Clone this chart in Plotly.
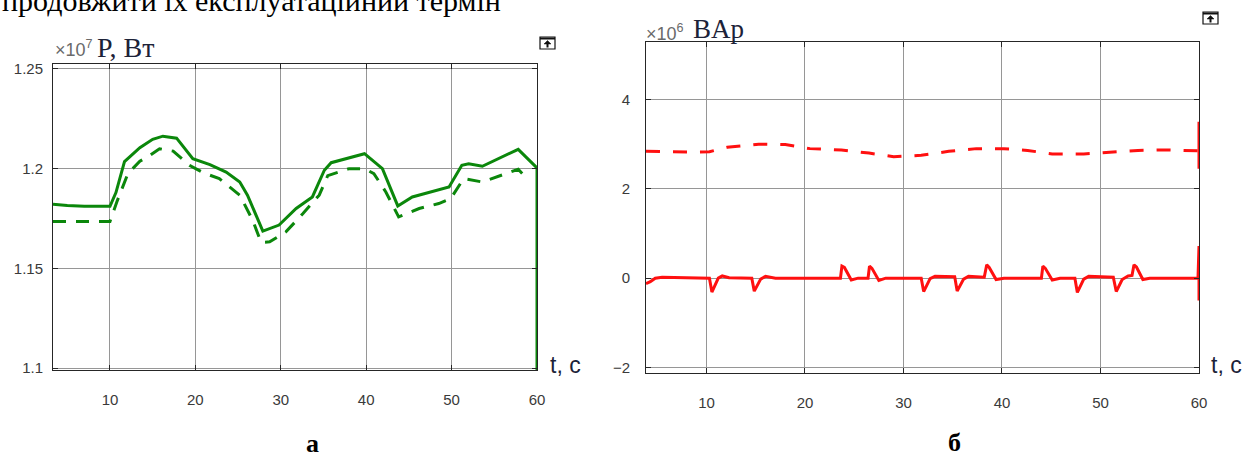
import plotly.graph_objects as go

W, H = 1246, 459

# ---------------- data: chart (а) active power P, x10^7 W ----------------
t_p_solid = [3.33, 5.0, 7.0, 10.0, 10.7, 11.7, 13.5, 15.0, 16.2, 17.8, 19.7, 21.7, 23.6, 25.2, 26.1,
             27.9, 29.8, 31.8, 33.7, 35.1, 35.9, 38.0, 39.8, 41.9, 43.7, 45.4, 47.7, 49.7, 51.2,
             52.0, 53.6, 55.5, 57.8, 59.9, 60.0, 60.0]
p_solid = [1.1822, 1.1815, 1.1812, 1.1811, 1.188, 1.2035, 1.2105, 1.2147, 1.2163, 1.2153, 1.205,
           1.202, 1.1983, 1.1933, 1.1867, 1.1687, 1.1717, 1.18, 1.1858, 1.1992, 1.203, 1.2053,
           1.2075, 1.2, 1.1813, 1.1858, 1.1883, 1.1908, 1.2017, 1.2025, 1.2012, 1.205, 1.2097,
           1.2008, 1.2005, 1.098]

t_p_dash = [3.33, 10.0, 10.8, 12.1, 13.5, 14.7, 15.8, 17.4, 19.3, 20.9, 22.8, 25.2, 26.7, 27.7, 28.7,
            30.6, 32.6, 34.5, 35.5, 36.5, 38.0, 39.8, 40.9, 42.3, 43.8, 46.2, 48.5, 49.9, 51.4,
            53.6, 55.9, 57.8, 59.0]
p_dash = [1.1735, 1.1735, 1.1833, 1.1975, 1.2037, 1.2067, 1.21, 1.2088, 1.2017, 1.198, 1.195,
          1.1867, 1.1742, 1.163, 1.1633, 1.1683, 1.1775, 1.1867, 1.1965, 1.198, 1.2, 1.2, 1.1975,
          1.1883, 1.1758, 1.18, 1.1825, 1.185, 1.195, 1.1933, 1.1967, 1.1997, 1.1942]

# ---------------- data: chart (б) reactive power, x10^6 VAr ----------------
t_q_dash = [3.86, 6.0, 9.0, 10.3, 12.1, 15.3, 18.0, 20.5, 23.7, 26.5, 29.0, 31.8, 34.6, 37.4, 40.2,
            42.6, 45.1, 48.3, 50.7, 53.8, 56.6, 59.9]
q_dash = [2.84, 2.83, 2.82, 2.83, 2.93, 3.0, 2.99, 2.9, 2.87, 2.8, 2.72, 2.75, 2.84, 2.9, 2.9,
          2.86, 2.78, 2.78, 2.82, 2.86, 2.87, 2.85]
t_q_dash_end = [60.0, 60.0]
q_dash_end = [3.5, 2.45]

t_q_solid = [3.86, 4.3, 4.8, 5.5, 10.3, 10.55, 11.2, 11.6, 12.3, 14.6, 14.85, 15.5, 16.0, 17.0,
             23.6, 23.75, 24.0, 24.7, 25.4, 26.4, 26.55, 26.8, 27.5, 28.2, 31.8, 32.05, 32.7,
             33.2, 35.2, 35.45, 36.1, 36.6, 38.2, 38.45, 38.7, 39.4, 40.2, 44.0, 44.15, 44.4,
             45.1, 45.9, 47.4, 47.65, 48.3, 48.8, 51.3, 51.6, 52.2, 52.8, 53.2, 53.4, 53.65,
             54.3, 55.0, 59.9, 60.0, 60.0]
q_solid = [-0.12, -0.08, 0.0, 0.02, 0.0, -0.31, 0.0, 0.05, 0.01, 0.0, -0.29, -0.02, 0.04, 0.0,
           0.0, 0.27, 0.24, -0.04, 0.0, 0.0, 0.27, 0.22, -0.05, 0.0, 0.0, -0.3, -0.01,
           0.04, 0.03, -0.29, -0.02, 0.04, 0.02, 0.3, 0.24, -0.03, 0.0, 0.0, 0.27, 0.22,
           -0.04, 0.0, 0.0, -0.32, -0.02, 0.04, 0.02, -0.3, -0.03, 0.05, 0.06, 0.3, 0.25,
           -0.03, 0.0, 0.0, 0.72, -0.5]

x_ticks = [10, 20, 30, 40, 50, 60]
p_ticks = [1.1, 1.15, 1.2, 1.25]
p_tick_text = ["1.1", "1.15", "1.2", "1.25"]
q_ticks = [-2, 0, 2, 4]

GREEN = "#0b870b"
RED = "#ff1010"


def px(x):
    return x / W


def py(y):
    return 1 - y / H


fig = go.Figure()
fig.add_trace(go.Scatter(x=t_p_solid, y=p_solid, mode="lines", xaxis="x", yaxis="y",
                         line=dict(color=GREEN, width=3), showlegend=False, hoverinfo="skip"))
fig.add_trace(go.Scatter(x=t_p_dash, y=p_dash, mode="lines", xaxis="x", yaxis="y",
                         line=dict(color=GREEN, width=3, dash="13px,10px"), showlegend=False,
                         hoverinfo="skip"))
fig.add_trace(go.Scatter(x=t_q_dash, y=q_dash, mode="lines", xaxis="x2", yaxis="y2",
                         line=dict(color=RED, width=3, dash="14px,13px"), showlegend=False,
                         hoverinfo="skip"))
fig.add_trace(go.Scatter(x=t_q_dash_end, y=q_dash_end, mode="lines", xaxis="x2", yaxis="y2",
                         line=dict(color=RED, width=3), showlegend=False, hoverinfo="skip"))
fig.add_trace(go.Scatter(x=t_q_solid, y=q_solid, mode="lines", xaxis="x2", yaxis="y2",
                         line=dict(color=RED, width=3), showlegend=False, hoverinfo="skip"))

AX = "#262626"
GRID = "#969696"
TICKFONT = dict(family="Liberation Sans, Arial, sans-serif", size=15, color="#3a3a3a")

common = dict(showline=True, linecolor=AX, linewidth=1, mirror="ticks", ticks="inside",
              ticklen=5, tickcolor=AX, tickwidth=1, showgrid=True, gridcolor=GRID,
              gridwidth=1, zeroline=False, tickfont=TICKFONT, automargin=False, fixedrange=True)

fig.update_layout(
    width=W, height=H,
    margin=dict(l=0, r=0, t=0, b=0),
    paper_bgcolor="white", plot_bgcolor="white",
    xaxis=dict(domain=[px(53), px(537)], range=[3.33, 60], tickvals=x_ticks, anchor="y",
               ticklabelstandoff=16, **common),
    yaxis=dict(domain=[py(370), py(64)], range=[1.099, 1.2525], tickvals=p_ticks,
               ticktext=p_tick_text, anchor="x", ticklabelstandoff=6, **common),
    xaxis2=dict(domain=[px(646), px(1199)], range=[3.86, 60], tickvals=x_ticks, anchor="y2",
                ticklabelstandoff=16, **common),
    yaxis2=dict(domain=[py(373), py(42)], range=[-2.123, 5.287], tickvals=q_ticks, anchor="x2",
                ticklabelstandoff=12, **common),
)

SERIF = "Liberation Serif, Times New Roman, serif"
SANS = "Liberation Sans, Arial, sans-serif"
LABEL_C = "#1c2238"


def note(text, x, y, font, xanchor="left"):
    return dict(text=text, x=px(x), y=py(y), xref="paper", yref="paper", xanchor=xanchor,
                yanchor="middle", showarrow=False, font=font)


ann = [
    # cut-off line of body text at the very top (cut off in the reference too)
    note("продовжити їх експлуатаційний термін", 0, 0,
         dict(family=SERIF, size=30, color="#000")),
    # axis unit labels
    note("×10<sup>7</sup>", 53, 49, dict(family=SANS, size=18, color="#6a6a6a")),
    note("P, Вт", 95, 47, dict(family=SERIF, size=28, color=LABEL_C)),
    note("×10<sup>6</sup>", 644, 32, dict(family=SANS, size=18, color="#6a6a6a")),
    note("BAp", 691, 29, dict(family=SERIF, size=27, color=LABEL_C)),
    # time axis labels
    note("t, c", 548, 365, dict(family=SANS, size=23, color=LABEL_C)),
    note("t, c", 1209, 365, dict(family=SANS, size=23, color=LABEL_C)),
    # sub-figure letters
    note("<b>а</b>", 312, 443, dict(family=SERIF, size=26, color="#000"), "center"),
    note("<b>б</b>", 954, 442, dict(family=SERIF, size=26, color="#000"), "center"),
]
fig.update_layout(annotations=ann)


def icon(x0, y0):
    # small "undock" button glyph drawn at the top-right of each plot
    w, h = 15, 12
    return [
        dict(type="rect", xref="paper", yref="paper", x0=px(x0), x1=px(x0 + w), y0=py(y0 + h),
             y1=py(y0), line=dict(color="#111", width=1.2), fillcolor="white"),
        dict(type="line", xref="paper", yref="paper", x0=px(x0), x1=px(x0 + w), y0=py(y0 + 1.5),
             y1=py(y0 + 1.5), line=dict(color="#111", width=2)),
        dict(type="path", xref="paper", yref="paper",
             path=f"M {px(x0 + 7.5)} {py(y0 + 3.5)} L {px(x0 + 4)} {py(y0 + 7)} "
                  f"L {px(x0 + 11)} {py(y0 + 7)} Z",
             fillcolor="#111", line=dict(color="#111", width=0.5)),
        dict(type="line", xref="paper", yref="paper", x0=px(x0 + 7.5), x1=px(x0 + 7.5),
             y0=py(y0 + 6), y1=py(y0 + 10.5), line=dict(color="#111", width=2)),
    ]


fig.update_layout(shapes=icon(540, 37) + icon(1203, 12))

fig.write_html("out.html", config={"displayModeBar": False},
               post_script="document.body.style.margin='0px';"
                           "document.body.style.overflow='hidden';")
